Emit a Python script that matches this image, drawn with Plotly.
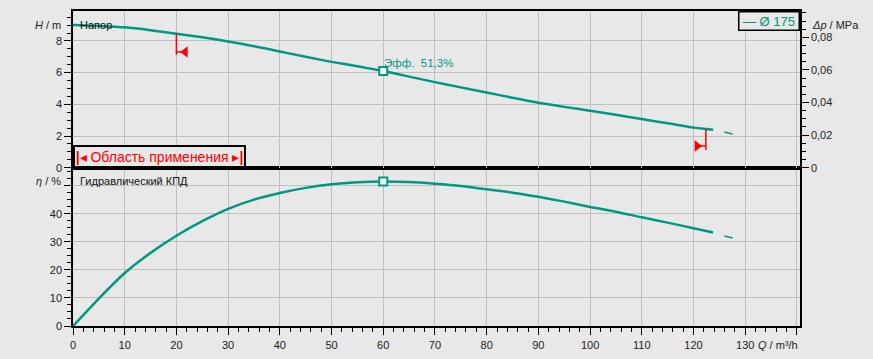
import numpy as np
import plotly.graph_objects as go

# ---------------- data ----------------
Q = [0, 5, 10, 15, 20, 25, 30, 35, 40, 45, 50, 55, 60, 65, 70, 75, 80, 85,
     90, 95, 100, 105, 110, 115, 120, 123.8]
H = [9.01, 8.95, 8.86, 8.68, 8.46, 8.23, 7.97, 7.67, 7.34, 7.00, 6.68, 6.40,
     6.10, 5.75, 5.40, 5.07, 4.75, 4.41, 4.10, 3.84, 3.60, 3.34, 3.07, 2.80,
     2.53, 2.40]
ETA = [0.0, 9.8, 18.9, 26.1, 32.2, 37.4, 41.8, 45.1, 47.5, 49.3, 50.6, 51.3,
       51.6, 51.4, 50.8, 50.0, 48.8, 47.6, 46.1, 44.4, 42.5, 40.8, 38.8, 36.9,
       34.9, 33.4]
Q_EXT = [126.0, 127.6]
H_EXT = [2.25, 2.12]
ETA_EXT = [32.1, 31.4]
Q_DUTY = 60
EFF_DUTY = "51,3"
OP_RANGE = [20.0, 122.4]
Q_TICKS = [0, 10, 20, 30, 40, 50, 60, 70, 80, 90, 100, 110, 120, 130, 140]
H_TICKS = [0, 2, 4, 6, 8]
ETA_TICKS = [0, 10, 20, 30, 40, 50]
DP_TICKS = [0, 0.02, 0.04, 0.06, 0.08]

TEAL = "#00997f"
RED = "#ff0000"
BG = "#e8e8e8"
GRID = "#c0c0c0"
FONT = "Liberation Sans, Arial, sans-serif"

h_duty = float(np.interp(Q_DUTY, Q, H))
eta_duty = float(np.interp(Q_DUTY, Q, ETA))

fig = go.Figure()

# Head curve (top panel)
fig.add_trace(go.Scatter(x=Q, y=H, xaxis="x2", yaxis="y2", mode="lines",
                         line=dict(color=TEAL, width=2.5, shape="spline", smoothing=0.6),
                         hoverinfo="skip", showlegend=False))
fig.add_trace(go.Scatter(x=Q_EXT, y=H_EXT, xaxis="x2", yaxis="y2", mode="lines",
                         line=dict(color=TEAL, width=1.5),
                         hoverinfo="skip", showlegend=False))
# Efficiency curve (bottom panel)
fig.add_trace(go.Scatter(x=Q, y=ETA, xaxis="x", yaxis="y", mode="lines",
                         line=dict(color=TEAL, width=2.5, shape="spline", smoothing=0.6),
                         hoverinfo="skip", showlegend=False))
fig.add_trace(go.Scatter(x=Q_EXT, y=ETA_EXT, xaxis="x", yaxis="y", mode="lines",
                         line=dict(color=TEAL, width=1.5),
                         hoverinfo="skip", showlegend=False))

# Operating range limits
q_lo, q_hi = OP_RANGE
h_lo = float(np.interp(q_lo, Q, H))
h_hi = float(np.interp(q_hi, Q, H))
for qv, hv, sign, sym in [(q_lo, h_lo, 1, "triangle-left"), (q_hi, h_hi, -1, "triangle-right")]:
    bottom = hv - 1.33
    ym = bottom + (0.17 if sign > 0 else 0.25)
    fig.add_trace(go.Scatter(x=[qv, qv], y=[hv, bottom], xaxis="x2", yaxis="y2",
                             mode="lines", line=dict(color=RED, width=1.5),
                             hoverinfo="skip", showlegend=False))
    fig.add_trace(go.Scatter(x=[qv, qv + sign * 1.3], y=[ym, ym], xaxis="x2", yaxis="y2",
                             mode="lines", line=dict(color=RED, width=1.5),
                             hoverinfo="skip", showlegend=False))
    fig.add_trace(go.Scatter(x=[qv + sign * 1.7], y=[ym], xaxis="x2", yaxis="y2",
                             mode="markers",
                             marker=dict(symbol=sym, size=10, color=RED, line=dict(width=0)),
                             hoverinfo="skip", showlegend=False))

# Duty point markers
fig.add_trace(go.Scatter(x=[Q_DUTY], y=[h_duty], xaxis="x2", yaxis="y2", mode="markers",
                         marker=dict(symbol="square", size=8, color="white",
                                     line=dict(color=TEAL, width=2)),
                         hoverinfo="skip", showlegend=False))
fig.add_trace(go.Scatter(x=[Q_DUTY], y=[eta_duty], xaxis="x", yaxis="y", mode="markers",
                         marker=dict(symbol="square", size=8, color="white",
                                     line=dict(color=TEAL, width=2)),
                         hoverinfo="skip", showlegend=False))

# dummy trace for Δp axis
fig.add_trace(go.Scatter(x=[0], y=[0], xaxis="x2", yaxis="y3", mode="markers",
                         marker=dict(opacity=0), hoverinfo="skip", showlegend=False))

split = 0.5025
tickfont = dict(family=FONT, size=11, color="#222")
common = dict(showline=True, linecolor="black", linewidth=1.5, ticks="outside",
              tickcolor="black", tickwidth=1, ticklen=7, tickfont=tickfont,
              zeroline=False, gridcolor=GRID, gridwidth=1, automargin=False)

fig.update_layout(
    width=873, height=359,
    margin=dict(l=73, r=73, t=11, b=33, autoexpand=False),
    paper_bgcolor=BG, plot_bgcolor=BG,
    font=dict(family=FONT, size=11, color="#222"),
    xaxis=dict(domain=[0, 1], anchor="y", range=[0, 140.6], tickmode="array",
               tickvals=Q_TICKS, ticktext=[str(v) for v in Q_TICKS[:-1]] + [""],
               mirror=True, showgrid=True, ticklabelstandoff=1,
               minor=dict(dtick=2, tick0=0, ticklen=4, ticks="outside",
                          tickcolor="black", showgrid=False),
               **common),
    xaxis2=dict(domain=[0, 1], anchor="y2", matches="x", range=[0, 140.6],
                tickmode="array", tickvals=Q_TICKS, showticklabels=False,
                showline=True, linecolor="black", linewidth=1.5, mirror=True,
                ticks="", showgrid=True, gridcolor=GRID, zeroline=False,
                automargin=False),
    yaxis=dict(domain=[0, split], anchor="x", range=[0, 56.5], tickmode="array",
               tickvals=ETA_TICKS, ticktext=[str(v) for v in ETA_TICKS[:-1]] + [""],
               mirror=True, showgrid=True,
               minor=dict(dtick=2.5, tick0=0, ticklen=4, ticks="outside",
                          tickcolor="black", showgrid=False),
               **common),
    yaxis2=dict(domain=[split, 1], anchor="x2", range=[0, 9.89], tickmode="array",
                tickvals=H_TICKS, ticktext=[str(v) for v in H_TICKS],
                mirror=True, showgrid=True,
                minor=dict(dtick=0.5, tick0=0, ticklen=4, ticks="outside",
                           tickcolor="black", showgrid=False),
                **common),
    yaxis3=dict(overlaying="y2", anchor="x2", side="right", range=[0, 0.0962],
                tickmode="array", tickvals=DP_TICKS,
                ticktext=["0" if v == 0 else f"{v:.2f}".replace(".", ",") for v in DP_TICKS],
                showgrid=False,
                minor=dict(dtick=0.005, tick0=0, ticklen=4, ticks="outside",
                           tickcolor="black", showgrid=False),
                **common),
)

ann = []
ann.append(dict(text="<i>H</i> / m", xref="paper", x=0, xshift=-10, xanchor="right",
                yref="y2", y=9.0, yanchor="middle", showarrow=False,
                font=dict(family=FONT, size=11, color="#222")))
ann.append(dict(text="Напор", xref="paper", x=0, xshift=5, xanchor="left",
                yref="y2", y=9.0, yanchor="middle", showarrow=False,
                font=dict(family=FONT, size=11, color="#111")))
ann.append(dict(text="<i>Δp</i> / MPa", xref="paper", x=1, xshift=10, xanchor="left",
                yref="y2", y=9.0, yanchor="middle", showarrow=False,
                font=dict(family=FONT, size=11, color="#222")))
ann.append(dict(text="<i>η</i> / %", xref="paper", x=0, xshift=-10, xanchor="right",
                yref="y", y=51.7, yanchor="middle", showarrow=False,
                font=dict(family=FONT, size=11, color="#222")))
ann.append(dict(text="Гидравлический КПД", xref="paper", x=0, xshift=5, xanchor="left",
                yref="y", y=51.7, yanchor="middle", showarrow=False,
                font=dict(family=FONT, size=11, color="#111")))
ann.append(dict(text="<i>Q</i> / m³/h", xref="paper", x=1, xanchor="right",
                yref="paper", y=0, yshift=-19, yanchor="middle", showarrow=False,
                font=dict(family=FONT, size=11, color="#222")))
ann.append(dict(text=f"Эфф.  {EFF_DUTY}%",
                xref="x2", x=Q_DUTY, xshift=-1, xanchor="left",
                yref="y2", y=h_duty, yshift=8, yanchor="middle", showarrow=False,
                font=dict(family=FONT, size=11.5, color=TEAL)))
ann.append(dict(text="— Ø 175", xref="paper", x=1, xanchor="right",
                yref="paper", y=1, yanchor="top", showarrow=False,
                bordercolor="black", borderwidth=1.5, borderpad=1, bgcolor=BG,
                width=57, height=15,
                font=dict(family=FONT, size=13, color=TEAL)))
ann.append(dict(text="<b>|</b>◂ Область применения ▸<b>|</b>", xref="paper", x=0, xanchor="left",
                yref="y2", y=0, yanchor="bottom", showarrow=False,
                bordercolor="black", borderwidth=2, borderpad=1, bgcolor=BG,
                width=167, height=17,
                font=dict(family=FONT, size=14, color=RED)))
fig.update_layout(annotations=ann)

fig.write_html("out.html", config={"displayModeBar": False},
               post_script="document.body.style.margin='0';")
